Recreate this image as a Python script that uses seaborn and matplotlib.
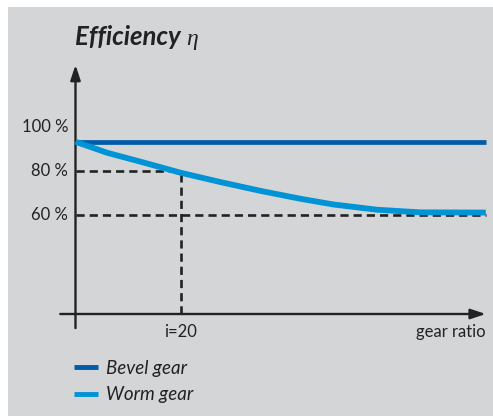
import matplotlib
matplotlib.use("Agg")
import matplotlib.pyplot as plt
import seaborn as sns
import pandas as pd
from matplotlib.patches import Rectangle
from matplotlib.lines import Line2D

# ---- data ----
gear_ratio = [0, 6.0, 12.4, 20, 27.5, 35.1, 42.7, 49.0, 57.3, 65.5, 78]
worm_eff = [93.3, 88.3, 84.2, 79.2, 75.0, 71.0, 67.4, 64.8, 62.4, 61.2, 61.1]
bevel_eff = [93.3] * len(gear_ratio)
series = ["Bevel gear", "Worm gear"]
tick_values = [100, 80, 60]
tick_labels = ["100 %", "80 %", "60 %"]
ref_ratio = 20
ref_label = "i=20"

df = pd.DataFrame({
    "ratio": gear_ratio * 2,
    "eff": bevel_eff + worm_eff,
    "gear": [series[0]] * len(gear_ratio) + [series[1]] * len(gear_ratio),
})

sns.set_style("white")
plt.rcParams["font.family"] = ["Lato", "DejaVu Sans"]

W, H = 493, 416
fig = plt.figure(figsize=(W / 100, H / 100), dpi=100)
fig.patch.set_facecolor("white")
fig.patches.append(Rectangle((8 / W, 0), 1, 1 - 7 / H, transform=fig.transFigure,
                             facecolor="#d4d5d7", edgecolor="none", zorder=-10))

# axes mapping: x_px = 75.5 + 5.26*x ; y_px = 215 - 2.2*(y-60)
x0, x1 = -5, 79
y0, y1 = 5, 130
px = lambda x: 75.5 + 5.26 * x
py = lambda y: 215 - 2.2 * (y - 60)
ax = fig.add_axes([px(x0) / W, 1 - py(y0) / H, (px(x1) - px(x0)) / W, (py(y0) - py(y1)) / H])
ax.patch.set_alpha(0)
palette = {"Bevel gear": "#005ca9", "Worm gear": "#0093d6"}

sns.lineplot(data=df[df.gear == series[0]], x="ratio", y="eff", color=palette[series[0]],
             lw=3.4, ax=ax, legend=False, solid_capstyle="butt", zorder=5)
sns.lineplot(data=df[df.gear == series[1]], x="ratio", y="eff", color=palette[series[1]],
             lw=4.2, ax=ax, legend=False, solid_capstyle="butt", solid_joinstyle="round",
             zorder=6)
ax.set_xlim(x0, x1)
ax.set_ylim(y0, y1)
ax.axis("off")

ink = "#222222"
dash = (0, (3.1, 1.9))
# dashed guide lines
ax.plot([0, ref_ratio], [80, 80], color=ink, lw=1.9, ls=dash, zorder=3)
ax.plot([ref_ratio, ref_ratio], [15, 80], color=ink, lw=1.9, ls=dash, zorder=3)
ax.plot([0, gear_ratio[-1]], [60, 60], color=ink, lw=1.9, ls=dash, zorder=3)

# axes arrows
ax.annotate("", xy=(0, 128.2), xytext=(0, 8.6),
            arrowprops=dict(arrowstyle="-|>,head_length=0.9,head_width=0.3", lw=1.7,
                            color=ink, shrinkA=0, shrinkB=0), zorder=4)
ax.annotate("", xy=(78, 15), xytext=(-2.9, 15),
            arrowprops=dict(arrowstyle="-|>,head_length=0.9,head_width=0.3", lw=1.7,
                            color=ink, shrinkA=0, shrinkB=0), zorder=4)

# tick labels
for v, t in zip(tick_values, tick_labels):
    ax.text(-1.4, v, t, ha="right", va="center", fontsize=12, color=ink)
ax.text(ref_ratio, 7.0, ref_label, ha="center", va="center", fontsize=12, color=ink)
ax.text(78, 7.0, "gear ratio", ha="right", va="center", fontsize=12, color=ink)

# title
fig.text(75 / W, 1 - 45 / H, "Efficiency", fontsize=18.5, fontweight="bold",
         fontstyle="italic", color=ink, va="baseline", ha="left")
fig.text(186 / W, 1 - 45 / H, "η", fontsize=17, fontstyle="italic",
         family=["Liberation Serif", "DejaVu Serif"], color=ink, va="baseline", ha="left")

# legend
handles = [Line2D([], [], color=palette[s], lw=3.5, solid_capstyle="butt") for s in series]
fig.legend(handles, series, loc="upper left", bbox_to_anchor=(74 / W, 1 - 360 / H),
           frameon=False, handlelength=1.3, handletextpad=0.4, labelspacing=0.5,
           borderpad=0, borderaxespad=0,
           prop=dict(family=["Lato", "DejaVu Sans"], style="italic", size=13.5), labelcolor=ink)

fig.savefig("out.png", dpi=100, facecolor="white")
